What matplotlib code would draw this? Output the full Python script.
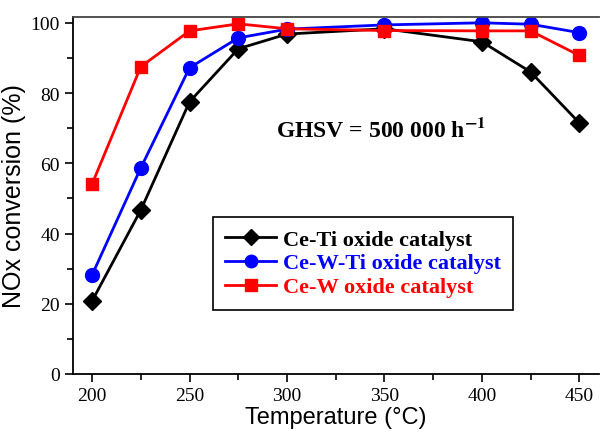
import matplotlib
matplotlib.use('Agg')
import matplotlib.pyplot as plt
from matplotlib.ticker import MultipleLocator

plt.rcParams['mathtext.fontset'] = 'stix'

temps = [200, 225, 250, 275, 300, 350, 400, 425, 450]
ce_ti = [20.8, 46.7, 77.5, 92.6, 96.8, 98.3, 94.6, 86.0, 71.5]
ce_w_ti = [28.2, 58.7, 87.2, 95.7, 98.2, 99.4, 100.0, 99.6, 97.2]
ce_w = [54.1, 87.5, 97.7, 99.7, 98.3, 97.8, 97.7, 97.7, 90.7]
labels = ['Ce-Ti oxide catalyst', 'Ce-W-Ti oxide catalyst', 'Ce-W oxide catalyst']

fig = plt.figure(figsize=(6, 4.35), dpi=100)
ax = fig.add_axes([0.122, 0.138, 0.876, 0.821])

ax.plot(temps, ce_ti, color='black', marker='D', markersize=9, lw=2, label=labels[0])
ax.plot(temps, ce_w_ti, color='blue', marker='o', markersize=10, lw=2, label=labels[1])
ax.plot(temps, ce_w, color='red', marker='s', markersize=9, lw=2, label=labels[2])

ax.set_xlim(190.3, 460)
ax.set_ylim(0, 101.7)
ax.xaxis.set_major_locator(MultipleLocator(50))
ax.xaxis.set_minor_locator(MultipleLocator(25))
ax.yaxis.set_major_locator(MultipleLocator(20))
ax.yaxis.set_minor_locator(MultipleLocator(10))
ax.tick_params(which='both', direction='out', width=1.2)
ax.tick_params(which='major', length=6, labelsize=14)
ax.tick_params(which='minor', length=4)
for lab in ax.get_xticklabels() + ax.get_yticklabels():
    lab.set_family('Liberation Serif')
for s in ['left', 'bottom', 'top']:
    ax.spines[s].set_linewidth(1.3)
ax.spines['top'].set_color('#444444')
ax.spines['right'].set_visible(False)

ax.set_xlabel('Temperature (°C)', fontsize=17, family='Liberation Sans', labelpad=1)
ax.set_ylabel('NOx conversion (%)', fontsize=18, family='Liberation Sans', labelpad=3)

ax.text(0.585, 0.686, 'GHSV = 500 000 h$^{\\mathbf{-1}}$', transform=ax.transAxes,
        ha='center', va='center', fontsize=17, fontweight='bold', family='Liberation Serif')

leg = ax.legend(loc='upper left', bbox_to_anchor=(0.266, 0.44), fancybox=False,
                edgecolor='black', framealpha=1,
                prop={'family': 'Liberation Serif', 'weight': 'bold', 'size': 16},
                handlelength=2.3, handletextpad=0.3, borderpad=0.55, labelspacing=0.15,
                borderaxespad=0, markerscale=0.9)
leg.get_frame().set_linewidth(1.2)
for txt, c in zip(leg.get_texts(), ['black', 'blue', 'red']):
    txt.set_color(c)

fig.savefig('out.png', dpi=100)
